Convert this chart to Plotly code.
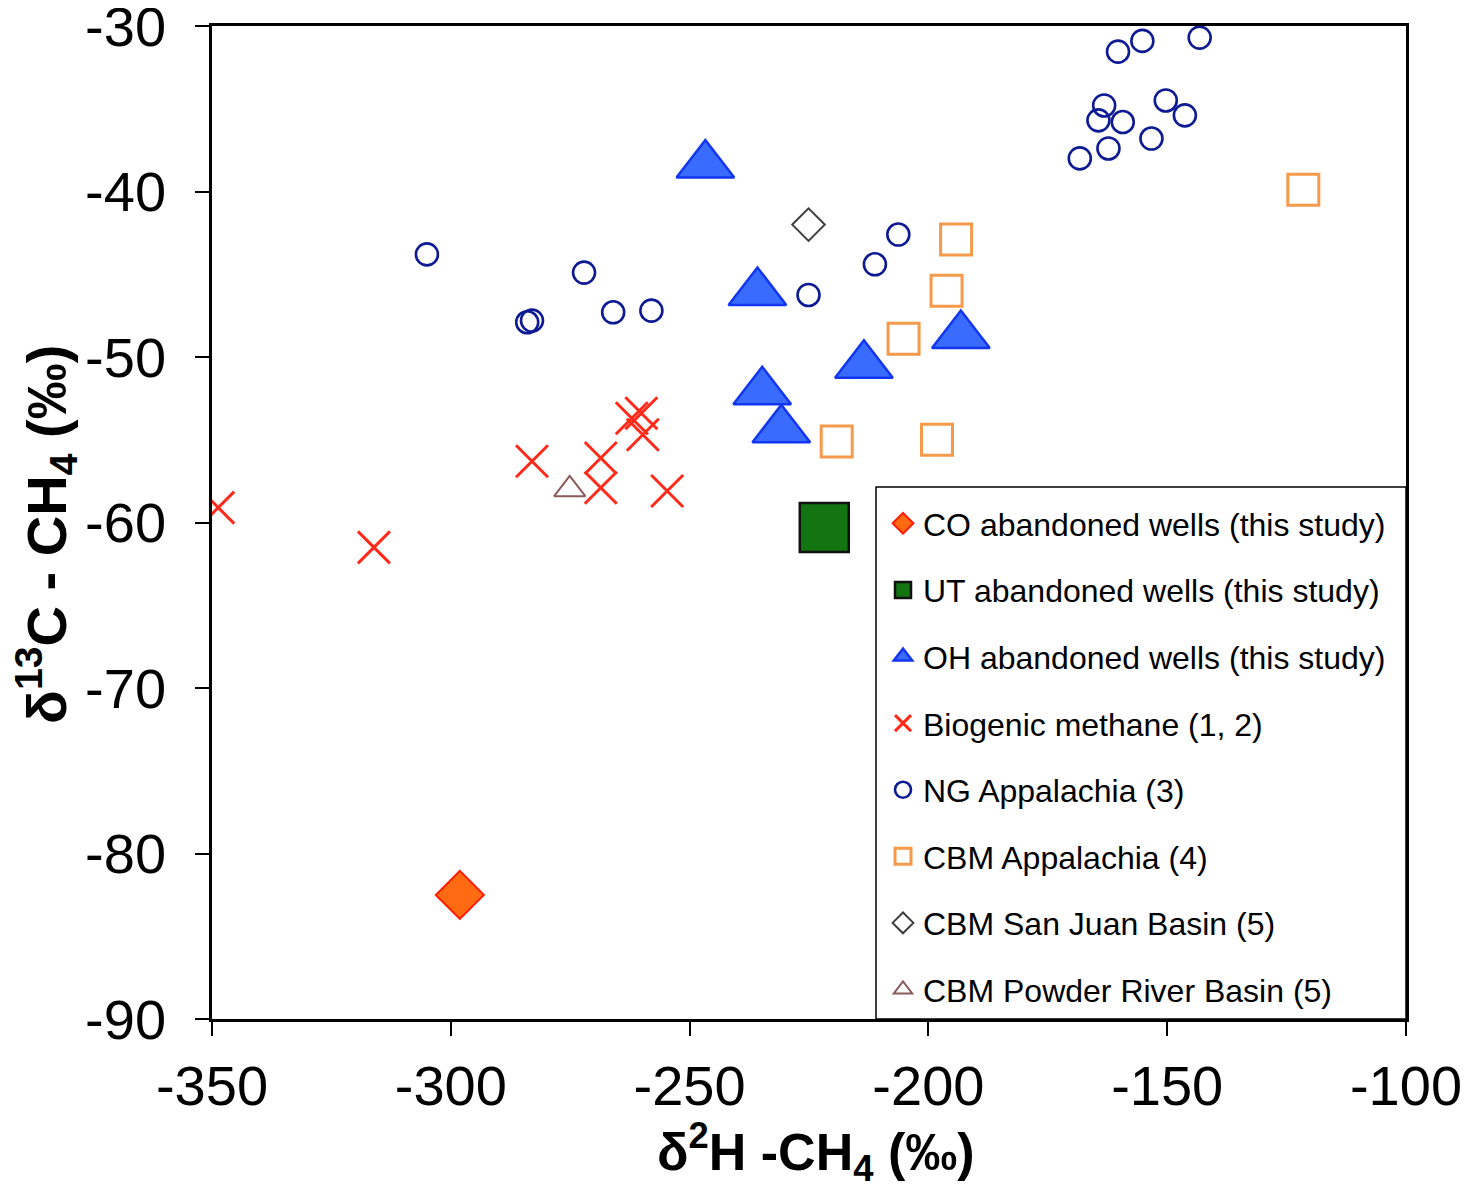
import plotly.graph_objects as go

# ---- data (delta2H-CH4, delta13C-CH4) ----
co_x = [-298.1]
co_y = [-82.5]

ut_x = [-221.8]
ut_y = [-60.3]

oh_x = [-246.7, -235.8, -213.5, -193.2, -234.8, -230.8]
oh_y = [-38.4, -46.1, -50.5, -48.7, -52.1, -54.4]

bio_x = [-348.7, -316.1, -283.0, -268.6, -268.6, -262.1, -260.1, -259.8, -254.7]
bio_y = [-59.1, -61.5, -56.3, -56.1, -57.9, -53.7, -53.4, -54.7, -58.1]

ng_x = [-305.0, -272.1, -284.0, -283.0, -266.0, -258.0, -225.1, -211.2, -206.3,
        -160.3, -155.2, -143.2, -163.2, -164.4, -159.3, -150.3, -146.3, -153.3, -162.3, -168.3]
ng_y = [-43.8, -44.9, -47.9, -47.8, -47.3, -47.2, -46.25, -44.4, -42.6,
        -31.55, -30.9, -30.7, -34.8, -35.7, -35.8, -34.5, -35.4, -36.8, -37.4, -38.0]

cbm_app_x = [-194.2, -196.2, -205.2, -219.2, -198.2, -121.5]
cbm_app_y = [-42.9, -46.0, -48.9, -55.1, -55.0, -39.9]

sj_x = [-225.1]
sj_y = [-42.0]

pr_x = [-275.1]
pr_y = [-58.0]

x_ticks = [-350, -300, -250, -200, -150, -100]
y_ticks = [-90, -80, -70, -60, -50, -40, -30]

FONT = "Liberation Sans, Arial, Helvetica, sans-serif"

fig = go.Figure()

def add(name, xs, ys, symbol, size, color, lcolor, lwidth, group):
    fig.add_trace(go.Scatter(
        x=xs, y=ys, mode="markers", name=name, legendgroup=group,
        marker=dict(symbol=symbol, size=size, color=color,
                    line=dict(color=lcolor, width=lwidth)),
    ))

add("CO abandoned wells (this study)", co_x, co_y, "diamond", 37, "#ff6a13", "#ff1a00", 2, "g1")
add("UT abandoned wells (this study)", ut_x, ut_y, "square", 49, "#127512", "#111111", 2.5, "g2")
add("OH abandoned wells (this study)", oh_x, oh_y, "triangle-up", 50, "#3a6bff", "#1236f0", 2.5, "g3")
add("Biogenic methane (1, 2)", bio_x, bio_y, "x-thin-open", 32, "#ff2a1a", "#ff2a1a", 3, "g4")
add("NG Appalachia (3)", ng_x, ng_y, "circle-open", 22, "#0d1a94", "#0d1a94", 2.6, "g5")
add("CBM Appalachia (4)", cbm_app_x, cbm_app_y, "square-open", 31, "#f5994a", "#f5994a", 3, "g6")
add("CBM San Juan Basin (5)", sj_x, sj_y, "diamond-open", 25, "#3d3d3d", "#3d3d3d", 2, "g7")
add("CBM Powder River Basin (5)", pr_x, pr_y, "triangle-up-open", 27, "#8b5a5a", "#8b5a5a", 2, "g8")

# screen layout (page body has an 8px margin)
OFF = 8
L, R, T, B = 212, 1406, 26, 1019
W, H = 1472 - OFF, 1192 - OFF

def px_x(p):
    return (p - L) / (R - L)

def px_y(p):
    return (B - p) / (B - T)

fig.update_layout(
    width=W, height=H,
    margin=dict(l=L - OFF, r=W - (R - OFF), t=T - OFF, b=H - (B - OFF), pad=0, autoexpand=False),
    paper_bgcolor="white", plot_bgcolor="white",
    font=dict(family=FONT, color="black"),
    showlegend=True,
    legend=dict(
        x=px_x(883), y=px_y(496), xanchor="left", yanchor="top",
        bgcolor="rgba(0,0,0,0)", borderwidth=0,
        font=dict(size=32, family=FONT, color="black"),
        tracegroupgap=22, traceorder="grouped", itemsizing="trace",
    ),
    shapes=[dict(type="rect", xref="paper", yref="paper",
                 x0=px_x(876), x1=1.0, y0=0.0, y1=px_y(487),
                 line=dict(color="black", width=1.5), fillcolor="white", layer="above")],
    annotations=[
        dict(text="δ<sup>2</sup>H -CH<sub>4</sub> (‰)", xref="paper", yref="paper",
             x=px_x(816), y=px_y(1152), xanchor="center", yanchor="middle", showarrow=False,
             font=dict(size=52, family=FONT, color="black", weight="bold")),
        dict(text="δ<sup>13</sup>C - CH<sub>4</sub> (‰)", xref="paper", yref="paper",
             x=px_x(46), y=px_y(535), xanchor="center", yanchor="middle", showarrow=False,
             textangle=-90,
             font=dict(size=56, family=FONT, color="black", weight="bold")),
    ],
)

fig.update_xaxes(
    range=[-350, -100], tickvals=x_ticks, ticktext=[str(v) for v in x_ticks],
    showgrid=False, zeroline=False, showline=True, linecolor="black", linewidth=2.5,
    mirror=True, ticks="outside", ticklen=14, tickwidth=2, tickcolor="black",
    tickfont=dict(size=56, family=FONT, color="black"), ticklabelstandoff=2,
    ticklabeloverflow="allow", automargin=False,
)
fig.update_yaxes(
    range=[-90, -30], tickvals=y_ticks, ticktext=[str(v) for v in y_ticks],
    showgrid=False, zeroline=False, showline=True, linecolor="black", linewidth=2.5,
    mirror=True, ticks="outside", ticklen=14, tickwidth=2, tickcolor="black",
    tickfont=dict(size=56, family=FONT, color="black"), ticklabelstandoff=18,
    ticklabeloverflow="allow", automargin=False,
)

fig.write_html("out.html")
